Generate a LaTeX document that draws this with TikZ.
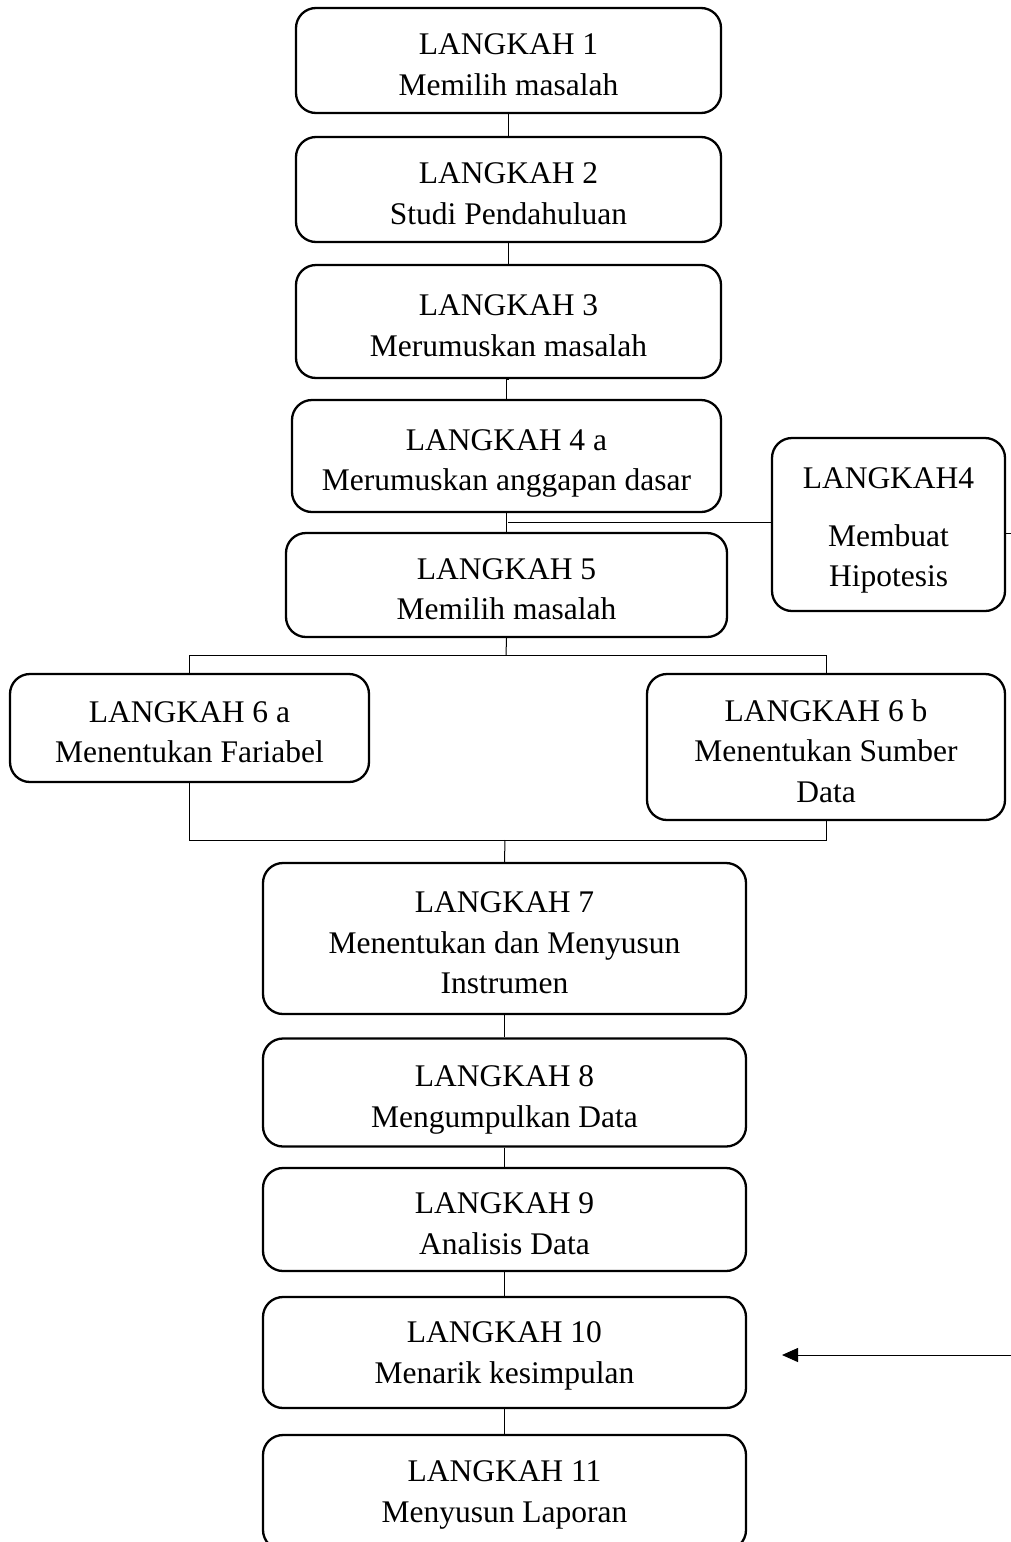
\documentclass[tikz,border=0pt]{standalone}
\usepackage{fontspec}
\setmainfont{Liberation Serif}
\usetikzlibrary{arrows.meta}
\newcommand\topfix[1][37pt]{\rule{0pt}{#1}}
\newcommand\botfix{\rule[-8pt]{0pt}{8pt}}
\begin{document}
\begin{tikzpicture}[x=1pt,y=-1pt,
  stepbox/.style={draw, line width=2.3pt, rounded corners=20pt, inner sep=0pt, align=center,
    font=\fontsize{31.5}{40.5}\selectfont},
  link/.style={line width=1pt}]
\clip (0,0) rectangle (1011,1542);
\useasboundingbox (0,0) rectangle (1011,1542);
\fill[white] (0,0) rectangle (1011,1542);
\node[stepbox, minimum width=425pt, minimum height=105pt] (b1) at (508.5,60.5) {\topfix LANGKAH 1\\Memilih masalah\botfix};
\node[stepbox, minimum width=425pt, minimum height=105pt] (b2) at (508.5,189.5) {\topfix LANGKAH 2\\Studi Pendahuluan\botfix};
\node[stepbox, minimum width=425pt, minimum height=113pt] (b3) at (508.5,321.5) {\topfix LANGKAH 3\\Merumuskan masalah\botfix};
\node[stepbox, minimum width=429pt, minimum height=112pt] (b4a) at (506.5,456) {\topfix LANGKAH 4 a\\Merumuskan anggapan dasar\botfix};
\node[stepbox, minimum width=441pt, minimum height=104pt] (b5) at (506.5,585) {\topfix LANGKAH 5\\Memilih masalah\botfix};
\node[stepbox, minimum width=233pt, minimum height=173pt] (b4) at (888.5,524.5) {\topfix[34pt]LANGKAH4\\[17pt]Membuat\\Hipotesis\botfix};
\node[stepbox, minimum width=359pt, minimum height=108pt] (b6a) at (189.5,728) {\topfix LANGKAH 6 a\\Menentukan Fariabel\botfix};
\node[stepbox, minimum width=358pt, minimum height=146pt] (b6b) at (826,747) {\topfix LANGKAH 6 b\\Menentukan Sumber\\Data\botfix};
\node[stepbox, minimum width=483pt, minimum height=151pt] (b7) at (504.5,938.5) {\topfix LANGKAH 7\\Menentukan dan Menyusun\\Instrumen\botfix};
\node[stepbox, minimum width=483pt, minimum height=108pt] (b8) at (504.5,1092.5) {\topfix LANGKAH 8\\Mengumpulkan Data\botfix};
\node[stepbox, minimum width=483pt, minimum height=103pt] (b9) at (504.5,1219.5) {\topfix LANGKAH 9\\Analisis Data\botfix};
\node[stepbox, minimum width=483pt, minimum height=111pt] (b10) at (504.5,1352.5) {\topfix[29pt]LANGKAH 10\\Menarik kesimpulan\botfix};
\node[stepbox, minimum width=483pt, minimum height=115pt] (b11) at (504.5,1492.5) {\topfix[27pt]LANGKAH 11\\Menyusun Laporan\botfix};
% connectors
\draw[link] (b1.south) -- (b2.north);
\draw[link] (b2.south) -- (b3.north);
\draw[link] (b3.south) -- (b4a.south |- b3.south) -- (b4a.north);
\draw[link] (b4a.south) -- (b5.north -| b4a.south);
\coordinate (h4) at (508,522);
\draw[link] (h4) -- (h4 -| b4.west);
\coordinate (r4) at (1011,533);
\draw[link] (r4 -| b4.east) -- (r4);
\coordinate (s5) at (506,655);
\draw[link] (b5.south) -- (s5);
\draw[link] (b6a.north) -- (b6a.north |- s5) -- (b6b.north |- s5) -- (b6b.north);
\coordinate (j7) at (505,840);
\draw[link] (b6a.south) -- (b6a.south |- j7) -- (b6b.south |- j7) -- (b6b.south);
\draw[link] (j7) -- (b7.north);
\draw[link] (b7.south) -- (b8.north);
\draw[link] (b8.south) -- (b9.north);
\draw[link] (b9.south) -- (b10.north);
\draw[link] (b10.south) -- (b11.north);
\coordinate (ar) at (1011,1355);
\coordinate (at10) at (782,1355);
\draw[link, -{Triangle[length=16pt,width=14pt]}] (ar) -- (at10);
\end{tikzpicture}
\end{document}
